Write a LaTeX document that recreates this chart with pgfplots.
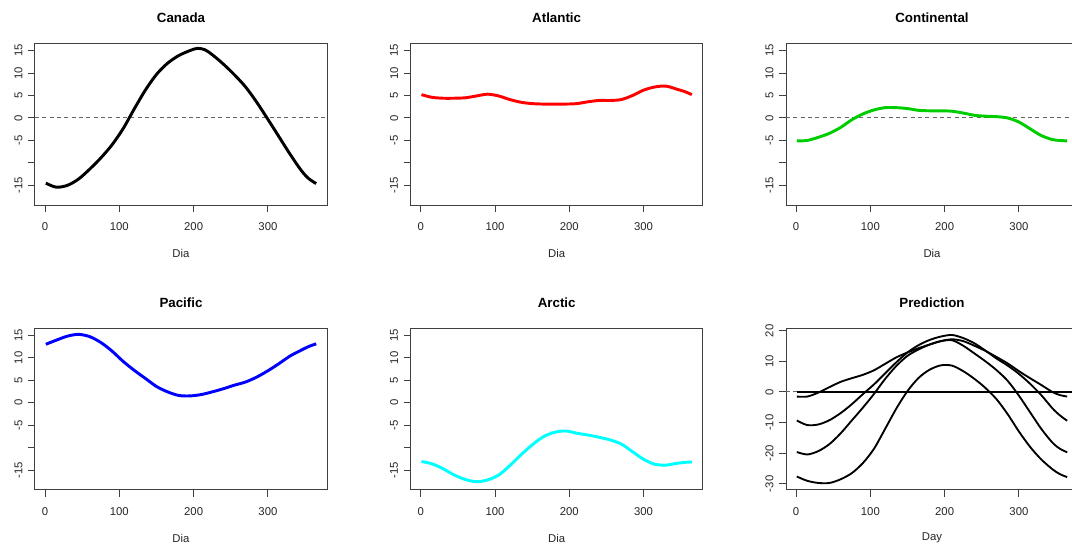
\documentclass[border=0pt]{standalone}
\usepackage{fontspec}
\setmainfont{Liberation Sans}
\usepackage{pgfplots}
\pgfplotsset{compat=1.18}
\definecolor{rgreen}{HTML}{00CD00}
\definecolor{rcyan}{HTML}{00FFFF}
\definecolor{rred}{HTML}{FF0000}
\definecolor{rblue}{HTML}{0000FF}
\definecolor{boxcol}{HTML}{404040}
\pgfplotsset{
  rstyle/.style={
    scale only axis, width=219pt, height=121.3pt,
    anchor=south west,
    xmin=-13.56, xmax=379.56,
    ymin=-19.44, ymax=16.56,
    axis line style={boxcol, line width=0.75pt},
    tick style={boxcol, line width=0.75pt},
    tick align=outside, major tick length=5pt,
    xtick pos=bottom, ytick pos=left,
    xtick={0,100,200,300}, xticklabels={0,100,200,300},
    ytick={-15,-10,-5,0,5,10,15}, yticklabels={-15,{},-5,0,5,10,15},
    xticklabel style={anchor=center, yshift=-11.1pt, font=\fontsize{8.5}{10}\selectfont, text=black!85},
    yticklabel style={xshift=-7.4pt, rotate=90, anchor=center, font=\fontsize{8.5}{10}\selectfont, text=black!85},
    title style={at={(axis description cs:0.5,1)}, anchor=center, yshift=13.5pt, font=\bfseries\fontsize{10}{12}\selectfont},
    xlabel style={at={(axis description cs:0.5,0)}, anchor=center, yshift=-36pt, font=\fontsize{8.5}{10}\selectfont, text=black!85},
    xlabel={Dia},
  },
  curve/.style={smooth, no markers, line width=2.2pt},
  zeroline/.style={no markers, black!60, line width=0.75pt, dash pattern=on 3pt off 2.5pt},
}
\begin{document}
\begin{tikzpicture}
\path[use as bounding box, clip] (0,0) rectangle (804pt,409.5pt);

% Canada
\begin{axis}[rstyle, at={(26.25pt,255.5pt)}, title={Canada}]
\addplot[zeroline] coordinates {(-13.56,0) (379.56,0)};
\addplot[curve, black] coordinates {
(1,-14.5) (15,-15.4) (30,-15.0) (45,-13.6) (60,-11.4) (75,-8.9) (90,-6.0) (105,-2.4)
(120,2.0) (135,6.2) (150,9.7) (165,12.2) (180,13.9) (195,15.0) (205,15.5) (215,15.2) (225,14.1)
(240,12.0) (255,9.6) (270,6.9) (285,3.5) (300,-0.3) (315,-4.2) (330,-8.1) (345,-11.7)
(355,-13.5) (365,-14.6)};
\end{axis}

% Atlantic
\begin{axis}[rstyle, at={(308.0pt,255.5pt)}, title={Atlantic}]
\addplot[curve, rred] coordinates {
(1,5.2) (15,4.6) (30,4.4) (45,4.4) (60,4.5) (75,4.9) (90,5.3) (105,4.9)
(120,4.1) (135,3.5) (150,3.2) (165,3.1) (180,3.1) (195,3.1) (210,3.2) (225,3.6)
(240,3.9) (255,3.9) (270,4.1) (285,5.0) (300,6.2) (315,6.9) (330,7.1) (345,6.4)
(355,5.9) (365,5.2)};
\end{axis}

% Continental
\begin{axis}[rstyle, at={(589.5pt,255.5pt)}, title={Continental}]
\addplot[zeroline] coordinates {(-13.56,0) (379.56,0)};
\addplot[curve, rgreen] coordinates {
(1,-5.1) (15,-5.0) (30,-4.3) (45,-3.4) (60,-2.1) (75,-0.4) (90,0.9) (105,1.8)
(120,2.3) (135,2.3) (150,2.1) (165,1.7) (180,1.6) (195,1.6) (210,1.5) (225,1.1)
(240,0.6) (255,0.4) (270,0.3) (285,0.0) (300,-0.9) (315,-2.4) (330,-3.9) (345,-4.8)
(355,-5.0) (365,-5.1)};
\end{axis}

% Pacific
\begin{axis}[rstyle, at={(26.25pt,42.0pt)}, title={Pacific}]
\addplot[curve, rblue] coordinates {
(1,13.0) (15,13.9) (30,14.8) (45,15.2) (60,14.7) (75,13.4) (90,11.5) (105,9.2)
(120,7.2) (135,5.4) (150,3.6) (165,2.4) (180,1.6) (195,1.5) (210,1.8) (225,2.4)
(240,3.1) (255,3.9) (270,4.6) (285,5.7) (300,7.1) (315,8.7) (330,10.4) (345,11.7)
(355,12.5) (365,13.1)};
\end{axis}

% Arctic
\begin{axis}[rstyle, at={(308.0pt,42.0pt)}, title={Arctic}]
\addplot[curve, rcyan] coordinates {
(1,-13.1) (15,-13.6) (30,-14.7) (45,-16.1) (60,-17.1) (75,-17.6) (90,-17.2) (105,-16.1)
(120,-14.0) (135,-11.6) (150,-9.4) (165,-7.6) (180,-6.6) (195,-6.3) (210,-6.8) (225,-7.2)
(240,-7.7) (255,-8.3) (270,-9.2) (285,-10.9) (300,-12.6) (315,-13.7) (330,-13.9) (345,-13.5)
(355,-13.3) (365,-13.2)};
\end{axis}

% Prediction
\begin{axis}[rstyle, at={(589.5pt,42.0pt)}, title={Prediction}, xlabel={Day},
  ymin=-32.0, ymax=20.8,
  ytick={-30,-20,-10,0,10,20}, yticklabels={-30,-20,-10,0,10,20}]
\addplot[zeroline] coordinates {(-13.56,0) (379.56,0)};
\addplot[no markers, black, line width=1.2pt] coordinates {(1,0) (379.56,0)};
\addplot[smooth, no markers, black, line width=1.4pt] coordinates {
(1,-1.5) (15,-1.5) (30,-0.2) (45,1.6) (60,3.3) (75,4.5) (90,5.6) (105,7.1)
(120,9.2) (135,11.3) (150,12.9) (165,14.3) (180,15.5) (195,16.6) (210,17.2) (225,16.6)
(240,15.1) (255,13.4) (270,11.4) (285,9.3) (300,6.8) (315,4.5) (330,2.3) (345,0.0)
(355,-1.0) (365,-1.5)};
\addplot[smooth, no markers, black, line width=1.4pt] coordinates {
(1,-9.3) (15,-10.8) (30,-10.6) (45,-9.2) (60,-6.9) (75,-4.0) (90,-0.7) (105,2.5)
(120,6.1) (135,9.7) (150,12.9) (165,15.3) (180,17.0) (195,18.1) (210,18.6) (225,17.6)
(240,15.9) (255,13.5) (270,10.9) (285,8.6) (300,5.9) (315,2.7) (330,-1.0) (345,-5.3)
(355,-7.6) (365,-9.4)};
\addplot[smooth, no markers, black, line width=1.4pt] coordinates {
(1,-19.6) (15,-20.4) (30,-19.3) (45,-17.0) (60,-13.5) (75,-9.3) (90,-5.1) (105,-0.6)
(120,4.3) (135,8.5) (150,11.8) (165,13.9) (180,15.5) (195,16.6) (210,16.9) (225,15.1)
(240,12.6) (255,10.0) (270,7.1) (285,3.6) (300,-1.2) (315,-6.6) (330,-12.0) (345,-16.5)
(355,-18.5) (365,-19.7)};
\addplot[smooth, no markers, black, line width=1.4pt] coordinates {
(1,-27.6) (15,-29.0) (30,-29.7) (45,-29.7) (60,-28.5) (75,-26.5) (90,-23.2) (105,-18.5)
(120,-12.0) (135,-5.4) (150,0.3) (165,4.6) (180,7.3) (195,8.7) (210,8.6) (225,6.8)
(240,4.3) (255,1.3) (270,-2.4) (285,-7.3) (300,-12.9) (315,-17.9) (330,-22.0) (345,-25.2)
(355,-26.8) (365,-27.8)};
\end{axis}
\end{tikzpicture}
\end{document}
